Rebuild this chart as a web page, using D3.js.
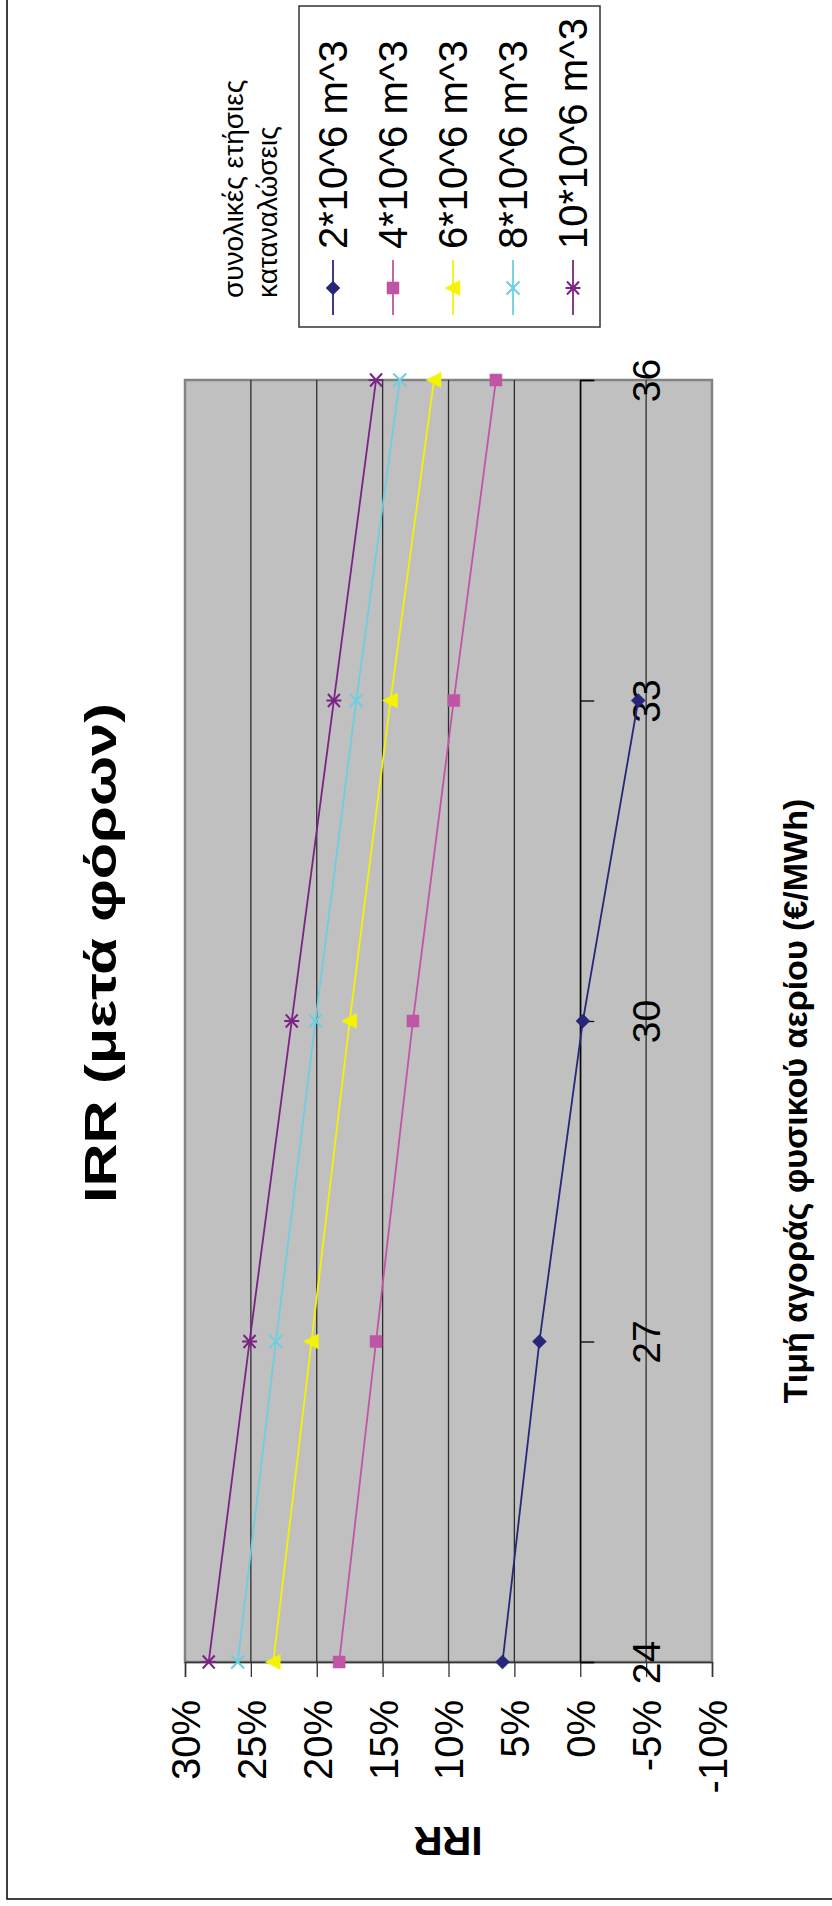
<!DOCTYPE html>
<html>
<head>
<meta charset="utf-8">
<script src="https://cdn.jsdelivr.net/npm/d3@7"></script>
<style>
  body { margin: 0; background: #fff; }
  svg { display: block; }
  text { font-family: "Liberation Sans", Arial, sans-serif; fill: #000; }
</style>
</head>
<body>
<svg id="chart" width="832" height="1906"></svg>
<script>
// Gas purchase price (€/MWh) on the category axis
const categories = [24, 27, 30, 33, 36];

// IRR after tax (%) per annual consumption level
const seriesNames = ["2*10^6 m^3", "4*10^6 m^3", "6*10^6 m^3", "8*10^6 m^3", "10*10^6 m^3"];
const irr2  = [5.9, 3.1, -0.2, -4.4, null];
const irr4  = [18.3, 15.5, 12.7, 9.6, 6.4];
const irr6  = [23.3, 20.4, 17.5, 14.4, 11.1];
const irr8  = [26.0, 23.1, 20.1, 17.0, 13.7];
const irr10 = [28.2, 25.1, 21.9, 18.7, 15.5];

const valueTicks = [30, 25, 20, 15, 10, 5, 0, -5, -10];

const seriesColors  = ["#26267a", "#c054a6", "#f4f400", "#6ccfe0", "#7b2384"];
const seriesSymbols = ["diamond", "square", "triangle", "cross", "star"];

const titleText = "IRR (μετά φόρων)";
const xTitleText = "Τιμή αγοράς φυσικού αερίου (€/MWh)";
const yTitleText = "IRR";
const legendTitle = ["συνολικές ετήσιες", "καταναλώσεις"];

const series = seriesNames.map((name, i) => ({
  name,
  color: seriesColors[i],
  symbol: seriesSymbols[i],
  values: [irr2, irr4, irr6, irr8, irr10][i].map((v, j) => ({ c: categories[j], v }))
}));

const svg = d3.select("#chart");

// The chart is laid out turned a quarter-turn: IRR runs left→right (high to low),
// price runs bottom→top.
const plot = { left: 185, right: 712, top: 380, bottom: 1662 };
const irrScale = d3.scaleLinear().domain([30, -10]).range([plot.left, plot.right]);
const priceScale = d3.scalePoint().domain(categories).range([plot.bottom, plot.top]);

// outer frame (only left and bottom edges fall inside the page)
svg.append("path")
  .attr("d", `M7,-5 V1899 H840`)
  .attr("fill", "none").attr("stroke", "#000").attr("stroke-width", 1.5);

// plot background
svg.append("rect")
  .attr("x", plot.left).attr("y", plot.top)
  .attr("width", plot.right - plot.left).attr("height", plot.bottom - plot.top)
  .attr("fill", "#c0c0c0").attr("stroke", "#828282").attr("stroke-width", 2.5);

// gridlines
svg.append("g").selectAll("line")
  .data(valueTicks.filter(t => t !== 30 && t !== -10))
  .join("line")
  .attr("x1", d => irrScale(d)).attr("x2", d => irrScale(d))
  .attr("y1", plot.top).attr("y2", plot.bottom)
  .attr("stroke", "#2e2e2e").attr("stroke-width", 1.3);

// value axis along the bottom edge
const valueAxis = d3.axisBottom(irrScale)
  .tickValues(valueTicks)
  .tickSize(15)
  .tickFormat(d => d + "%");
const gv = svg.append("g").attr("transform", `translate(0,${plot.bottom})`).call(valueAxis);
gv.select(".domain").attr("stroke", "#333").attr("stroke-width", 1.5);
gv.selectAll(".tick line").attr("stroke", "#333").attr("stroke-width", 1.3);
gv.selectAll(".tick text")
  .attr("font-size", 40)
  .attr("font-family", "Liberation Sans, Arial, sans-serif")
  .attr("fill", "#000")
  .attr("text-anchor", "end")
  .attr("x", 0).attr("y", 0).attr("dy", "0.36em")
  .attr("transform", `translate(0,${1700 - plot.bottom}) rotate(-90)`);

// category axis at IRR = 0
const catAxis = d3.axisRight(priceScale).tickSize(14).tickFormat(d => d);
const gc = svg.append("g").attr("transform", `translate(${irrScale(0)},0)`).call(catAxis);
gc.select(".domain").attr("stroke", "#000").attr("stroke-width", 1.3);
gc.selectAll(".tick line").attr("stroke", "#000").attr("stroke-width", 1.3);
gc.selectAll(".tick text")
  .attr("font-size", 39)
  .attr("font-family", "Liberation Sans, Arial, sans-serif")
  .attr("fill", "#000")
  .attr("text-anchor", "middle")
  .attr("x", 0).attr("y", 0).attr("dy", "0.36em")
  .attr("transform", `translate(${646 - irrScale(0)},0) rotate(-90)`);

// marker shapes, drawn in the turned frame
function markerPath(type) {
  const p = d3.path();
  if (type === "diamond") {
    p.moveTo(0, -7); p.lineTo(7, 0); p.lineTo(0, 7); p.lineTo(-7, 0); p.closePath();
  } else if (type === "square") {
    p.rect(-6, -6, 12, 12);
  } else if (type === "triangle") {
    p.moveTo(-8, 0); p.lineTo(7, -7.5); p.lineTo(7, 7.5); p.closePath();
  } else if (type === "cross") {
    p.moveTo(-6.5, -6.5); p.lineTo(6.5, 6.5); p.moveTo(-6.5, 6.5); p.lineTo(6.5, -6.5);
  } else {
    p.moveTo(-6, -6.5); p.lineTo(6, 6.5); p.moveTo(-6, 6.5); p.lineTo(6, -6.5);
    p.moveTo(-7.5, 0); p.lineTo(7.5, 0);
  }
  return p.toString();
}
const filled = t => t === "diamond" || t === "square" || t === "triangle";

const line = d3.line()
  .defined(d => d.v != null)
  .x(d => irrScale(d.v))
  .y(d => priceScale(d.c));

const gs = svg.append("g").selectAll("g").data(series).join("g");
gs.append("path")
  .attr("d", d => line(d.values))
  .attr("fill", "none")
  .attr("stroke", d => d.color)
  .attr("stroke-width", 1.8);
gs.each(function (s) {
  d3.select(this).selectAll("path.m")
    .data(s.values.filter(d => d.v != null))
    .join("path")
    .attr("class", "m")
    .attr("d", markerPath(s.symbol))
    .attr("transform", d => `translate(${irrScale(d.v)},${priceScale(d.c)})`)
    .attr("fill", filled(s.symbol) ? s.color : "none")
    .attr("stroke", s.color)
    .attr("stroke-width", filled(s.symbol) ? 0.5 : 2);
});

// legend
const legendBox = { x: 299, y: 6, w: 301, h: 321 };
const legendX = d3.scalePoint().domain(seriesNames).range([333, 573]);
const lg = svg.append("g");
lg.append("rect")
  .attr("x", legendBox.x).attr("y", legendBox.y)
  .attr("width", legendBox.w).attr("height", legendBox.h)
  .attr("fill", "#fff").attr("stroke", "#333").attr("stroke-width", 1.5);
const items = lg.selectAll("g.item").data(series).join("g").attr("class", "item")
  .attr("transform", d => `translate(${legendX(d.name)},0)`);
items.append("line")
  .attr("x1", 0).attr("x2", 0).attr("y1", 260).attr("y2", 315)
  .attr("stroke", d => d.color).attr("stroke-width", 1.8);
items.append("path")
  .attr("d", d => markerPath(d.symbol))
  .attr("transform", "translate(0,288)")
  .attr("fill", d => filled(d.symbol) ? d.color : "none")
  .attr("stroke", d => d.color)
  .attr("stroke-width", d => filled(d.symbol) ? 0.5 : 2);
items.append("text")
  .attr("transform", "translate(0,249) rotate(-90)")
  .attr("dy", "0.36em")
  .attr("font-size", 40)
  .text(d => d.name);

// legend heading
svg.append("g").selectAll("text").data(legendTitle).join("text")
  .attr("transform", (d, i) => `translate(${233 + i * 34},298) rotate(-90)`)
  .attr("dy", "0.36em")
  .attr("font-size", 28)
  .text(d => d);

// chart title
svg.append("text")
  .attr("transform", "translate(100,953) rotate(-90)")
  .attr("text-anchor", "middle").attr("dy", "0.36em")
  .attr("font-size", 44).attr("font-weight", "bold")
  .attr("font-family", "DejaVu Sans, sans-serif")
  .attr("textLength", 500).attr("lengthAdjust", "spacingAndGlyphs")
  .text(titleText);

// price axis title
svg.append("text")
  .attr("transform", "translate(795,1101) rotate(-90)")
  .attr("text-anchor", "middle").attr("dy", "0.36em")
  .attr("font-size", 34).attr("font-weight", "bold")
  .attr("font-family", "Open Sans, sans-serif")
  .text(xTitleText);

// IRR axis title (upside down in the turned layout)
svg.append("text")
  .attr("transform", "translate(448,1827) rotate(180)")
  .attr("text-anchor", "middle")
  .attr("font-size", 40).attr("font-weight", "bold")
  .text(yTitleText);
</script>
</body>
</html>
